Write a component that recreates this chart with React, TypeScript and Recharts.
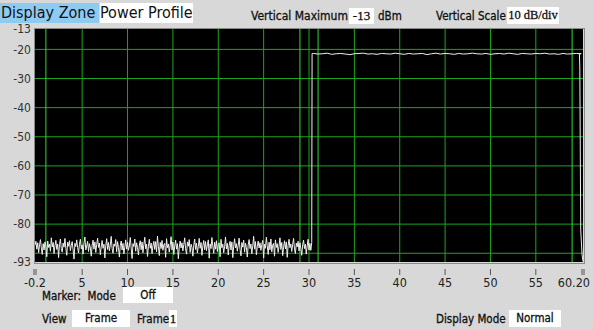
import React from "react"
import { LineChart, Line, XAxis, YAxis, CartesianGrid, ReferenceLine } from "recharts"

// frequency axis (MHz) and level axis (dBm)
const freqTicks = [-0.2, 5, 10, 15, 20, 25, 30, 35, 40, 45, 50, 55, 60.2]
const levelTicks = [-93, -80, -70, -60, -50, -40, -30, -20, -13]
const gridFreqs = [5, 10, 15, 20, 25, 30, 35, 40, 45, 50, 55]
const gridLevels = [-90, -80, -70, -60, -50, -40, -30, -20]
const markerFreqs = [1, 29, 31, 59]

// noise floor, sampled every 0.1 MHz from -0.2
const FLOOR_START = -0.2
const FLOOR_STEP = 0.1
const floorLevels = [
  -87.2, -85.9, -88.6, -86.4, -89.8, -87.1, -85.3, -88.2, -90.4, -86.7,
  -88.9, -86.1, -87.5, -91.2, -85.8, -88.0, -86.9, -89.3, -84.7, -87.8,
  -86.3, -90.1, -87.4, -85.6, -88.7, -86.8, -91.5, -87.0, -85.1, -88.4,
  -89.6, -86.5, -87.9, -84.9, -88.3, -90.7, -86.2, -87.6, -85.7, -89.1,
  -87.3, -86.0, -88.8, -92.0, -86.6, -87.7, -85.4, -88.1, -89.9, -86.9,
  -85.2, -88.5, -87.1, -90.3, -86.4, -84.4, -88.9, -87.5, -85.9, -89.4,
  -86.7, -88.2, -91.0, -87.2, -85.5, -88.6, -86.1, -89.7, -87.0, -84.8,
  -88.0, -86.5, -90.5, -87.8, -85.6, -88.3, -86.9, -91.6, -87.4, -85.0,
  -88.7, -86.3, -89.2, -87.1, -84.2, -88.4, -90.0, -86.8, -87.6, -85.3,
  -89.5, -86.0, -88.1, -91.3, -87.3, -85.8, -88.9, -86.6, -90.2, -87.9,
  -85.4, -88.6, -86.2, -89.0, -87.5, -84.6, -88.2, -91.8, -86.7, -87.7,
  -85.1, -89.3, -86.4, -88.0, -90.6, -87.2, -85.7, -88.8, -86.1, -89.8,
  -87.0, -84.5, -88.5, -86.9, -91.1, -87.6, -85.2, -88.3, -86.5, -90.1,
  -87.4, -85.9, -88.7, -86.0, -89.5, -84.1, -87.8, -90.8, -86.3, -88.4,
  -85.6, -89.0, -87.1, -86.6, -91.4, -85.0, -88.1, -86.8, -89.6, -87.3,
  -84.3, -88.9, -86.2, -90.4, -87.5, -85.5, -88.6, -86.7, -91.9, -87.9,
  -85.8, -88.2, -86.4, -89.2, -87.0, -84.7, -88.5, -90.3, -86.1, -87.6,
  -85.3, -89.7, -86.9, -88.0, -91.0, -87.2, -85.1, -88.7, -86.5, -89.9,
  -87.7, -84.9, -88.3, -86.3, -90.7, -87.4, -85.6, -88.8, -86.0, -89.1,
  -87.1, -85.4, -91.7, -86.8, -88.4, -84.6, -87.5, -90.0, -86.2, -88.6,
  -85.7, -89.4, -87.0, -86.4, -91.2, -85.2, -88.1, -86.9, -89.8, -87.8,
  -84.4, -88.5, -86.6, -90.6, -87.3, -85.9, -88.9, -86.1, -91.5, -87.6,
  -85.0, -88.2, -86.7, -89.3, -87.2, -84.8, -88.7, -90.9, -86.3, -87.9,
  -85.5, -89.6, -86.5, -88.0, -91.3, -87.1, -85.3, -88.4, -86.8, -90.2,
  -87.5, -84.2, -88.6, -86.0, -90.5, -87.7, -85.8, -88.2, -86.4, -89.0,
  -87.0, -85.6, -91.6, -86.9, -88.3, -84.5, -87.4, -90.4, -86.2, -88.8,
  -85.1, -89.5, -87.2, -86.6, -91.0, -85.4, -88.0, -86.7, -89.7, -87.6,
  -84.7, -88.7, -86.3, -90.8, -87.9, -85.7, -88.5, -86.1, -91.4, -87.3,
  -85.2, -88.1, -86.8, -89.4, -87.0, -84.9, -88.6, -90.1, -86.5, -87.8,
  -85.9, -89.2, -86.4, -88.3, -90.7, -87.1, -85.5, -88.4, -86.9, -90.3,
  -87.5, -85.2, -88.9, -86.6, -89.0,
]

// rising edge of the burst
const riseFreqs = [30.3, 30.34]
const riseLevels = [-86.4, -21.4]

// burst top, every 0.5 MHz from 30.5
const PLATEAU_START = 30.5
const PLATEAU_STEP = 0.5
const plateauLevels = [
  -21.4, -21.6, -21.5, -21.3, -21.7, -21.5, -21.4, -21.6, -21.8, -21.5,
  -21.4, -21.3, -21.6, -21.5, -21.7, -21.4, -21.5, -21.6, -21.3, -21.5,
  -21.7, -21.4, -21.6, -21.5, -21.4, -21.8, -21.5, -21.3, -21.6, -21.4,
  -21.5, -21.7, -21.4, -21.6, -21.5, -21.3, -21.5, -21.6, -21.4, -21.7,
  -21.5, -21.4, -21.6, -21.3, -21.5, -21.7, -21.4, -21.5, -21.6, -21.4,
  -21.5, -21.3, -21.6, -21.5, -21.7, -21.4, -21.6, -21.5, -21.4, -21.5,
]

// falling edge
const fallFreqs = [59.8, 59.85, 59.95, 60.1, 60.2]
const fallLevels = [-21.5, -26, -82, -90.5, -92.8]

const trace = [
  ...floorLevels.map((p, i) => ({ f: +(FLOOR_START + i * FLOOR_STEP).toFixed(2), p })),
  ...riseFreqs.map((f, i) => ({ f, p: riseLevels[i] })),
  ...plateauLevels.map((p, i) => ({ f: +(PLATEAU_START + i * PLATEAU_STEP).toFixed(2), p })),
  ...fallFreqs.map((f, i) => ({ f, p: fallLevels[i] })),
]

const UI_FONT = "'DejaVu Sans Condensed', sans-serif"
const BOX_FONT = "'Liberation Serif', serif"
const INK = "0.3px #111"

function FreqTick(props: any) {
  const { x, y, payload } = props
  const v = payload.value
  const edge = v === -0.2 || v === 60.2
  const label = v === 60.2 ? "60.20" : String(v)
  return (
    <g>
      {edge ? (
        <>
          <line x1={x - 1} x2={x - 1} y1={y + 7} y2={y + 13} stroke="#555" />
          <line x1={x + 1} x2={x + 1} y1={y + 7} y2={y + 13} stroke="#555" />
        </>
      ) : (
        <line x1={x} x2={x} y1={y + 7} y2={y + 13} stroke="#555" />
      )}
      <text
        x={v === 60.2 ? x + 7 : x}
        y={y + 25}
        textAnchor={v === 60.2 ? "end" : "middle"}
        fontFamily={UI_FONT}
        fontSize={12.5}
        fill="#222"
      >
        {label}
      </text>
    </g>
  )
}

function Txt({ x, y, children, size = 11.5 }: any) {
  return (
    <div style={{ position: "absolute", left: x, top: y - 10, height: 20, lineHeight: "20px", fontFamily: UI_FONT, fontSize: size, color: "#111", WebkitTextStroke: INK, whiteSpace: "nowrap" }}>
      {children}
    </div>
  )
}

function Box({ x, y, w, h, children, font = UI_FONT, size = 11.5 }: any) {
  return (
    <div style={{ position: "absolute", left: x, top: y, width: w, height: h, lineHeight: h + "px", background: "#fff", textAlign: "center", fontFamily: font, fontSize: size, color: "#111", WebkitTextStroke: INK, whiteSpace: "nowrap", overflow: "hidden" }}>
      {children}
    </div>
  )
}

export default function App() {
  return (
    <div style={{ position: "absolute", left: 0, top: 0, width: 593, height: 330, background: "#d8d8d8", overflow: "hidden" }}>
      <LineChart width={593} height={330} data={trace} margin={{ top: 29, right: 10, bottom: 38, left: 0 }}>
        <CartesianGrid
          fill="#000"
          stroke="#1ca51c"
          horizontalValues={gridLevels}
          verticalValues={gridFreqs}
        />
        <XAxis
          dataKey="f"
          type="number"
          domain={[-0.2, 60.2]}
          ticks={freqTicks}
          interval={0}
          height={30}
          axisLine={false}
          tickLine={false}
          tickSize={0}
          tickMargin={0}
          tick={<FreqTick />}
          allowDataOverflow
        />
        <YAxis
          type="number"
          domain={[-93, -13]}
          ticks={levelTicks}
          interval={0}
          width={35}
          axisLine={false}
          tickLine={false}
          tickSize={0}
          tickMargin={4}
          tick={{ fontFamily: UI_FONT, fontSize: 12, fill: "#333" }}
          allowDataOverflow
        />
        {markerFreqs.map((m) => (
          <ReferenceLine key={m} x={m} stroke="#34d934" />
        ))}
        <Line type="linear" dataKey="p" stroke="#f0f0f0" strokeWidth={1} dot={false} isAnimationActive={false} />
      </LineChart>

      <div style={{ position: "absolute", left: 34, top: 28, width: 549, height: 234, border: "1px solid #8a8a8a", pointerEvents: "none" }} />

      <div style={{ position: "absolute", left: 0, top: 3, width: 98, height: 20, lineHeight: "20px", background: "#8ecbf3", fontFamily: UI_FONT, fontSize: 16, color: "#111", paddingLeft: 1, whiteSpace: "nowrap" }}>
        Display Zone
      </div>
      <div style={{ position: "absolute", left: 100, top: 3, width: 93, height: 20, lineHeight: "20px", background: "#fff", fontFamily: UI_FONT, fontSize: 16, color: "#111", whiteSpace: "nowrap" }}>
        Power Profile
      </div>

      <Txt x={251} y={16} size={12}>Vertical Maximum</Txt>
      <Box x={349} y={8} w={25} h={16} font={BOX_FONT} size={13}>-13</Box>
      <Txt x={378} y={16}>dBm</Txt>
      <Txt x={436} y={16}>Vertical Scale</Txt>
      <Box x={507} y={7} w={52} h={17} font={BOX_FONT} size={12.5}>10 dB/div</Box>

      <Txt x={42} y={296}>Marker:&nbsp; Mode</Txt>
      <Box x={123} y={287} w={50} h={16}>Off</Box>
      <Txt x={42} y={319}>View</Txt>
      <Box x={72} y={310} w={58} h={17}>Frame</Box>
      <Txt x={137} y={319}>Frame</Txt>
      <Box x={169} y={310} w={8} h={17} font={BOX_FONT} size={13}>1</Box>
      <Txt x={436} y={319}>Display Mode</Txt>
      <Box x={509} y={310} w={52} h={17}>Normal</Box>
    </div>
  )
}
